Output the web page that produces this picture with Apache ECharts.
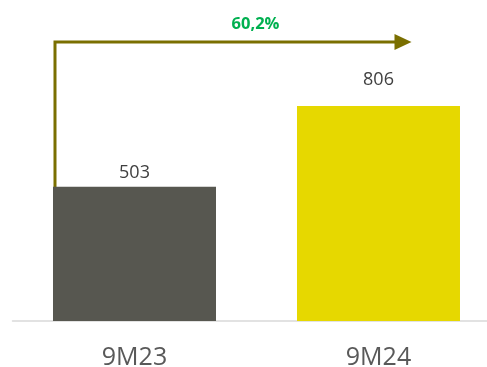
<!DOCTYPE html>
<html><head><meta charset="utf-8">
<script src="https://cdn.jsdelivr.net/npm/echarts@6/dist/echarts.min.js"></script>
<style>html,body{margin:0;padding:0;background:#fff}#c{width:487px;height:367px}</style>
</head><body><div id="c"></div>
<script>
const categories = ['9M23', '9M24'];
const values = [503, 806];
const barColors = ['#575750', '#E6D800'];
const labelGaps = [5, 17];
const growthLabel = '60,2%';

const chart = echarts.init(document.getElementById('c'));
chart.setOption({
  animation: false,
  grid: { left: 12.5, right: 0, top: 54.3, bottom: 46, containLabel: false, outerBoundsMode: 'none' },
  xAxis: {
    type: 'value', min: -0.5, max: 1.4447,
    splitLine: { show: false },
    axisLine: { show: true, onZero: false, lineStyle: { color: '#D9D9D9', width: 1.5 } },
    axisTick: { show: false },
    axisLabel: {
      customValues: categories.map((c, i) => i),
      formatter: v => categories[Math.round(v)] || '',
      color: '#595959', fontSize: 25, margin: 24, fontFamily: 'Open Sans, sans-serif'
    }
  },
  yAxis: { type: 'value', min: 0, max: 1000, show: false, splitLine: { show: false } },
  series: [{
    type: 'bar', barWidth: 163,
    data: values.map((v, i) => ({ value: [i, v], itemStyle: { color: barColors[i] }, label: { distance: labelGaps[i] } })),
    label: { show: true, position: 'top', color: '#404040', fontSize: 18, fontFamily: 'Open Sans, sans-serif',
      formatter: p => p.value[1] }
  }]
});

// growth arrow annotation positioned relative to axes
const p0 = chart.convertToPixel({ gridIndex: 0 }, [0, 0]);
const p1 = chart.convertToPixel({ gridIndex: 0 }, [1, 0]);
const x0 = p0[0] - 79.5;
const yBottom = chart.convertToPixel({ gridIndex: 0 }, [0, 247])[1];
const yTop = chart.convertToPixel({ gridIndex: 0 }, [0, 1046])[1];
const xEnd = p1[0] + 17;
const tip = p1[0] + 33;
const col = '#7A6F00';
chart.setOption({
  graphic: [
    { type: 'polyline', shape: { points: [[x0, yBottom], [x0, yTop], [xEnd, yTop]] },
      style: { stroke: col, lineWidth: 3, fill: null } },
    { type: 'polygon', shape: { points: [[xEnd - 1, yTop - 8], [tip, yTop], [xEnd - 1, yTop + 8]] },
      style: { fill: col } },
    { type: 'text', x: (p0[0] + p1[0]) / 2 - 1, y: yTop - 18,
      style: { text: growthLabel, fill: '#00B050', font: 'bold 16.5px "Open Sans", sans-serif', textAlign: 'center', textVerticalAlign: 'middle' } }
  ]
});
</script></body></html>
